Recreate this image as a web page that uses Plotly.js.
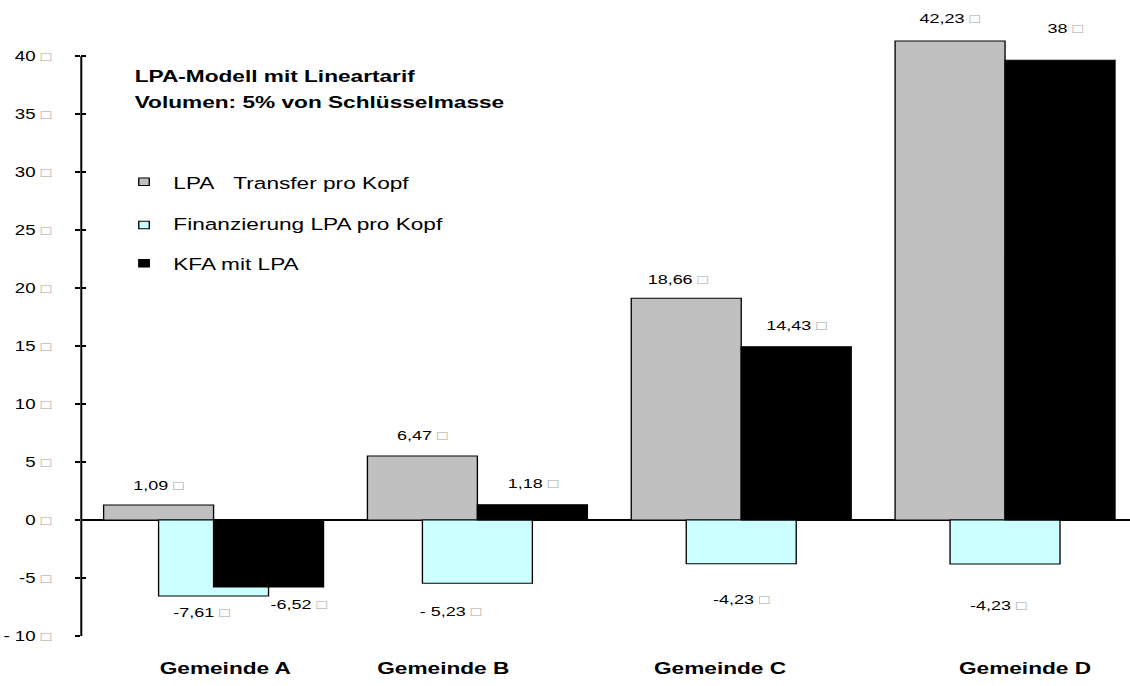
<!DOCTYPE html>
<html>
<head>
<meta charset="utf-8">
<script src="https://cdn.plot.ly/plotly-3.0.1.min.js"></script>
<style>
  html, body { margin: 0; padding: 0; background: #ffffff; }
  #wrap { width: 1130px; height: 686px; overflow: hidden; position: relative; }
  #chart { width: 848px; height: 686px; transform: scaleX(1.33255); transform-origin: 0 0; }
</style>
</head>
<body>
<div id="wrap"><div id="chart"></div></div>
<script>
// ---- data ----
const categories = ['Gemeinde A', 'Gemeinde B', 'Gemeinde C', 'Gemeinde D'];
const seriesNames = ['LPA\u00a0\u00a0\u00a0Transfer pro Kopf', 'Finanzierung LPA pro Kopf', 'KFA mit LPA'];
const transferValues = [1.29, 5.52, 19.13, 41.33];
const financeValues = [-6.56, -5.46, -3.77, -3.79];
const kfaValues = [-5.78, 1.32, 14.96, 39.66];
const transferLabels = ['1,09', '6,47', '18,66', '42,23'];
const financeLabels = ['-7,61', '- 5,23', '-4,23', '-4,23'];
const kfaLabels = ['-6,52', '1,18', '14,43', '38'];
const yTickValues = [-10, -5, 0, 5, 10, 15, 20, 25, 30, 35, 40];
const yTickLabels = ['- 10', '-5', '0', '5', '10', '15', '20', '25', '30', '35', '40'];
const titleLines = ['LPA-Modell mit Lineartarif', 'Volumen: 5% von Schlüsselmasse'];

// ---- styling / layout ----
const FONT = 'Liberation Sans, Arial, Helvetica, sans-serif';
const BOX = ' <span style="color:#a4a4a4;font-size:13px">\u25A1</span>';
const W = 0.4168;               // bar width in group units
const idx = categories.map((c, i) => i);
const colors = ['#c0c0c0', '#ccffff', '#000000'];
const offsets = [-W / 2, 0, W / 2];
const centers = [0, W / 2, W];
const values = [transferValues, financeValues, kfaValues];
const labels = [transferLabels, financeLabels, kfaLabels];
// label placement (pixel shifts, transformed space)
const labelShiftY = [[20, 21, 19, 22], [-16, -28, -36, -41], [-17, 21, 21, 32]];
const labelShiftX = [[0, 0, -6, 0], [-9, -20, 0, -5], [23, 0, 0, 4]];

const traces = values.map((v, s) => ({
  type: 'bar',
  name: seriesNames[s],
  x: idx,
  y: v,
  width: W,
  offset: offsets[s],
  marker: { color: colors[s], line: { color: '#000000', width: 1 } },
  hoverinfo: 'skip'
}));
traces.push({ type: 'scatter', x: [], y: [], yaxis: 'y2', hoverinfo: 'skip', showlegend: false });

const annotations = [];
values.forEach((v, s) => {
  v.forEach((val, i) => {
    annotations.push({
      x: idx[i] + centers[s], y: val, xref: 'x', yref: 'y',
      text: labels[s][i] + BOX, showarrow: false,
      xanchor: 'center', yanchor: 'middle',
      yshift: labelShiftY[s][i], xshift: labelShiftX[s][i],
      font: { family: FONT, size: 13.5, color: '#000000' }
    });
  });
});

// paper helpers (original pixel -> paper fraction)
const PX0 = 81, PX1 = 1130, PYT = 10.36, PYB = 636;
const px = p => (p - PX0) / (PX1 - PX0);
const py = p => (PYB - p) / (PYB - PYT);

const titleY = [76.5, 102.5];
titleLines.forEach((t, k) => annotations.push({
  xref: 'paper', yref: 'paper', x: px(131.5), y: py(titleY[k]),
  xanchor: 'left', yanchor: 'middle', showarrow: false, text: '<b>' + t + '</b>',
  font: { family: FONT, size: 17, color: '#000000' }
}));

const legendY = [183.5, 225, 265];
const symY = [182, 225.3, 263.5];
const shapes = [{
  type: 'line', xref: 'paper', yref: 'y', x0: 0, x1: 0, y0: -10, y1: 40,
  line: { color: '#000000', width: 1.5 }
}];
seriesNames.forEach((n, s) => {
  annotations.push({
    xref: 'paper', yref: 'paper', x: px(170), y: py(legendY[s]),
    xanchor: 'left', yanchor: 'middle', showarrow: false, text: n,
    font: { family: FONT, size: 17, color: '#000000' }
  });
  shapes.push({
    type: 'rect', xref: 'paper', yref: 'paper',
    x0: px(138.5), x1: px(149), y0: py(symY[s] + 3.8), y1: py(symY[s] - 3.8),
    fillcolor: colors[s], line: { color: '#000000', width: 1 }
  });
});

const layout = {
  width: 848, height: 686,
  margin: { l: 60.8, r: 0, t: PYT, b: 686 - PYB, pad: 0 },
  paper_bgcolor: '#ffffff', plot_bgcolor: '#ffffff',
  barmode: 'overlay', showlegend: false,
  font: { family: FONT, color: '#000000' },
  xaxis: {
    range: [-0.293, 3.682], tickvals: [0.253, 1.079, 2.128, 3.284], ticktext: categories,
    ticks: '', showline: false, showgrid: false, zeroline: false, fixedrange: true,
    tickfont: { family: FONT, size: 17, weight: 'bold', color: '#000000' },
    ticklabelstandoff: 20
  },
  yaxis: {
    range: [-10, 44], tickvals: yTickValues,
    ticktext: yTickLabels.map(t => t + BOX),
    ticks: 'outside', ticklen: 3.75, tickwidth: 2, tickcolor: '#000000',
    showline: false, showgrid: false,
    zeroline: true, zerolinecolor: '#000000', zerolinewidth: 1.3,
    tickfont: { family: FONT, size: 14, color: '#000000' },
    ticklabelstandoff: 15, fixedrange: true
  },
  yaxis2: {
    overlaying: 'y', anchor: 'x', side: 'left', range: [-10, 44], tickvals: yTickValues,
    ticks: 'inside', ticklen: 3.75, tickwidth: 2, tickcolor: '#000000',
    showticklabels: false, showline: false, showgrid: false, zeroline: false, fixedrange: true
  },
  shapes: shapes,
  annotations: annotations
};

Plotly.newPlot('chart', traces, layout, { displayModeBar: false, staticPlot: true });
</script>
</body>
</html>
